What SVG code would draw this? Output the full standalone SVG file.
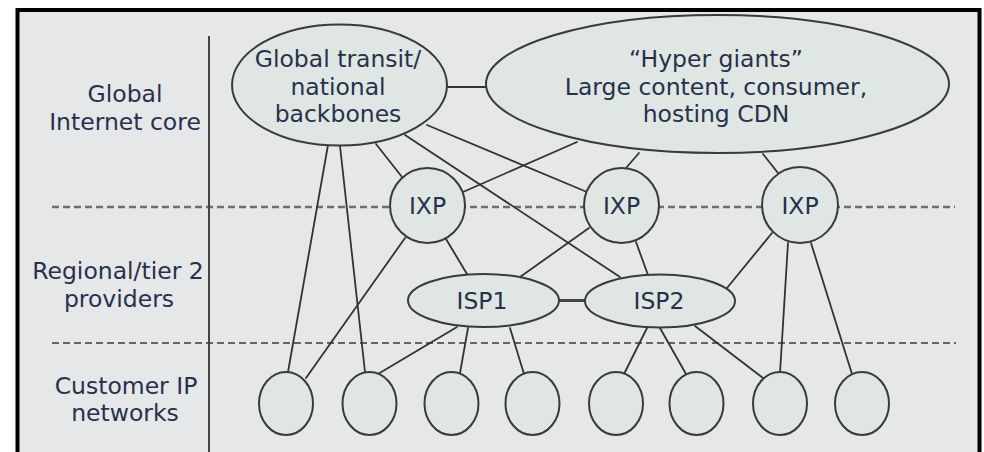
<svg xmlns="http://www.w3.org/2000/svg" width="984" height="452" viewBox="0 0 984 452">
  <style>
    .txt { font-family: "DejaVu Sans", "Open Sans", "Liberation Sans", sans-serif; font-size: 23.5px; fill: #27314c; text-anchor: middle; }
    .node { fill: #dfe6e3; stroke: #3a3a3a; stroke-width: 2; }
    .link { stroke: #333333; stroke-width: 1.8; fill: none; stroke-linecap: round; }
    .tier { stroke: #6e6e6e; stroke-width: 2.5; stroke-dasharray: 7 4; fill: none; }
    .tier2 { stroke: #3a3a3a; stroke-width: 1.6; stroke-dasharray: 7 4; fill: none; }
  </style>

  <!-- page and frame -->
  <rect x="0" y="0" width="984" height="452" fill="#ffffff"/>
  <rect x="17.5" y="10" width="962" height="460" fill="#e6e7e9" stroke="#000000" stroke-width="4"/>

  <!-- tier boundaries -->
  <g id="tiers">
    <line class="tier" x1="52" y1="207" x2="955" y2="207"/>
    <line class="tier2" x1="52" y1="343" x2="956" y2="343"/>
    <line x1="209" y1="36" x2="209" y2="452" stroke="#444444" stroke-width="2"/>
  </g>

  <!-- tier labels -->
  <g id="labels">
    <text class="txt" x="125" y="102">Global</text>
    <text class="txt" x="125" y="129.5">Internet core</text>
    <text class="txt" x="118" y="279">Regional/tier 2</text>
    <text class="txt" x="119" y="306.5">providers</text>
    <text class="txt" x="126" y="393.5">Customer IP</text>
    <text class="txt" x="125" y="421">networks</text>
  </g>

  <!-- connectors -->
  <g id="connectors">
    <line class="link" x1="447" y1="87" x2="486" y2="87"/>
    <line class="link" x1="328" y1="145" x2="288" y2="372"/>
    <line class="link" x1="340" y1="146" x2="365" y2="372"/>
    <line class="link" x1="376" y1="144" x2="402" y2="177"/>
    <line class="link" x1="427" y1="125" x2="587" y2="192"/>
    <line class="link" x1="405" y1="135" x2="620" y2="277"/>
    <line class="link" x1="577" y1="142" x2="463" y2="192"/>
    <line class="link" x1="639" y1="153" x2="626" y2="168"/>
    <line class="link" x1="763" y1="154" x2="778" y2="173"/>
    <line class="link" x1="405" y1="238" x2="306" y2="378"/>
    <line class="link" x1="446" y1="239" x2="467" y2="274"/>
    <line class="link" x1="589" y1="228" x2="520" y2="277"/>
    <line class="link" x1="636" y1="242" x2="648" y2="275"/>
    <line class="link" x1="772" y1="233" x2="727" y2="288"/>
    <line class="link" x1="788" y1="243" x2="780" y2="373"/>
    <line class="link" x1="811" y1="243" x2="852" y2="374"/>
    <line x1="559" y1="300.5" x2="585" y2="300.5" stroke="#444444" stroke-width="3"/>
    <line class="link" x1="457" y1="327" x2="378" y2="374"/>
    <line class="link" x1="468" y1="328" x2="460" y2="373"/>
    <line class="link" x1="510" y1="328" x2="524" y2="374"/>
    <line class="link" x1="647" y1="328" x2="624" y2="374"/>
    <line class="link" x1="660" y1="328" x2="686" y2="374"/>
    <line class="link" x1="695" y1="326" x2="763" y2="378"/>
  </g>

  <!-- core networks -->
  <g id="global-transit">
    <ellipse class="node" cx="339.5" cy="85" rx="107.5" ry="60.5"/>
    <text class="txt" x="338" y="67">Global transit/</text>
    <text class="txt" x="338" y="94.5">national</text>
    <text class="txt" x="338" y="122">backbones</text>
  </g>
  <g id="hyper-giants">
    <ellipse class="node" cx="717.5" cy="84" rx="231.5" ry="69"/>
    <text class="txt" x="716" y="67">“Hyper giants”</text>
    <text class="txt" x="716" y="94.5">Large content, consumer,</text>
    <text class="txt" x="716" y="122">hosting CDN</text>
  </g>

  <!-- exchange points -->
  <g id="ixp1">
    <circle class="node" cx="427.5" cy="205.5" r="37.5"/>
    <text class="txt" x="427.5" y="214">IXP</text>
  </g>
  <g id="ixp2">
    <circle class="node" cx="621.5" cy="205.5" r="37.5"/>
    <text class="txt" x="621.5" y="214">IXP</text>
  </g>
  <g id="ixp3">
    <circle class="node" cx="800" cy="205" r="38"/>
    <text class="txt" x="800" y="213.5">IXP</text>
  </g>

  <!-- regional providers -->
  <g id="isp1">
    <ellipse class="node" cx="483.5" cy="300.5" rx="75.5" ry="26.5"/>
    <text class="txt" x="482" y="309">ISP1</text>
  </g>
  <g id="isp2">
    <ellipse class="node" cx="660" cy="301" rx="75" ry="26.5"/>
    <text class="txt" x="659" y="309">ISP2</text>
  </g>

  <!-- customer networks -->
  <g id="customer1"><ellipse class="node" cx="286" cy="403.5" rx="27" ry="31.5"/></g>
  <g id="customer2"><ellipse class="node" cx="369.5" cy="403.5" rx="27" ry="31.5"/></g>
  <g id="customer3"><ellipse class="node" cx="451.5" cy="403.5" rx="27" ry="31.5"/></g>
  <g id="customer4"><ellipse class="node" cx="532.5" cy="403.5" rx="27" ry="31.5"/></g>
  <g id="customer5"><ellipse class="node" cx="616" cy="403.5" rx="27" ry="31.5"/></g>
  <g id="customer6"><ellipse class="node" cx="696.5" cy="403.5" rx="27" ry="31.5"/></g>
  <g id="customer7"><ellipse class="node" cx="780" cy="403.5" rx="27" ry="31.5"/></g>
  <g id="customer8"><ellipse class="node" cx="862" cy="403.5" rx="27" ry="31.5"/></g>
</svg>
